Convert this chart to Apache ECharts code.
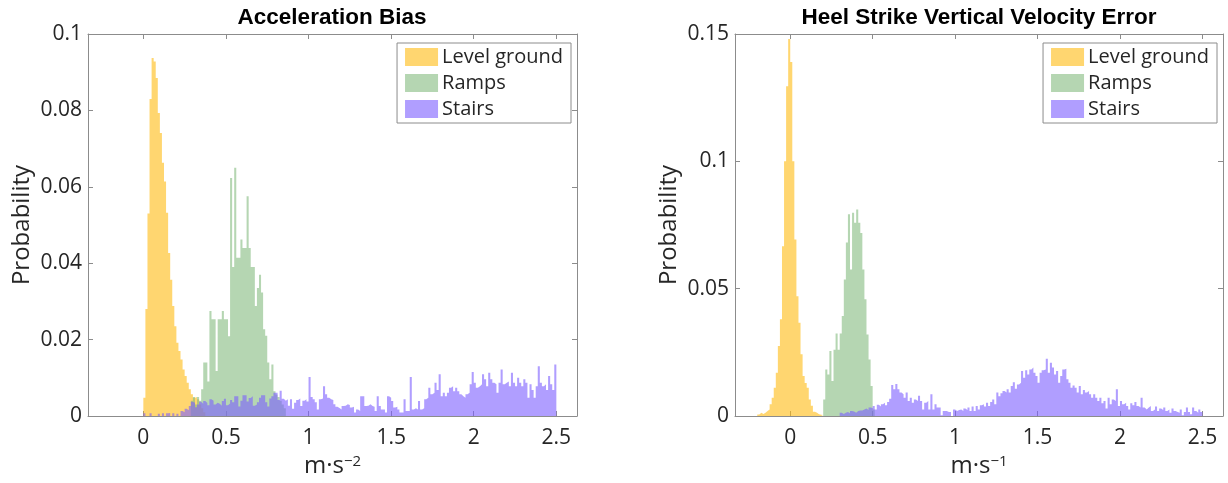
<!DOCTYPE html>
<html>
<head>
<meta charset="utf-8">
<title>Acceleration Bias / Heel Strike Vertical Velocity Error</title>
<script src="https://cdn.jsdelivr.net/npm/echarts@6/dist/echarts.min.js"></script>
<style>
  html, body { margin: 0; padding: 0; background: #ffffff; }
  #chart { width: 1228px; height: 483px; }
</style>
</head>
<body>
<div id="chart"></div>
<script>
// Histogram bin width shared by the series (same units as the x axis)
const BIN = 0.0125;

const seriesNames = ['Level ground', 'Ramps', 'Stairs'];
const xTickValues = [0, 0.5, 1, 1.5, 2, 2.5];

// ---- Acceleration bias (m·s^-2), probability per bin ----
const biasLevelStart = 0;
const biasLevel = [0.0048, 0.028, 0.053, 0.083, 0.0937, 0.0928, 0.0885, 0.0793, 0.0741, 0.0663,
  0.0614, 0.0532, 0.0427, 0.0357, 0.0288, 0.0235, 0.0192, 0.017, 0.0148, 0.0122,
  0.0105, 0.0087, 0.007, 0.0057, 0.0048, 0.005, 0.0044, 0.003, 0.002, 0.001];

const biasRampStart = 0.2875;
const biasRamp = [0.004, 0.005, 0.003, 0.005, 0.004, 0.007, 0.014, 0.014, 0.009, 0.0275,
  0.0253, 0.0253, 0.0118, 0.0253, 0.0253, 0.0275, 0.0253, 0.0253, 0.0209, 0.0623,
  0.039, 0.065, 0.0414, 0.0414, 0.0462, 0.044, 0.044, 0.0575, 0.044, 0.039,
  0.039, 0.0288, 0.0335, 0.037, 0.0323, 0.0227, 0.021, 0.014, 0.0096, 0.0135,
  0.0065, 0.0056, 0.005, 0.004, 0.003, 0.002];

const biasStairsStart = 0;
const biasStairs = [
  0.0007, 0, 0, 0.0007, 0, 0, 0, 0.0006, 0, 0.0007,
  0, 0.0007, 0.0008, 0, 0.0007, 0, 0.0006, 0, 0.0013, 0.001,
  0.0019, 0.0015, 0.0026, 0.0037, 0.0035, 0.0023, 0.003, 0.0037, 0.0032, 0.0039,
  0.0034, 0.0028, 0.0044, 0.004, 0.003, 0.0035, 0.0032, 0.0027, 0.0039, 0.0045,
  0.0028, 0.0033, 0.0042, 0.0036, 0.0052, 0.0052, 0.0025, 0.004, 0.0054, 0.0054,
  0.0038, 0.0047, 0.0052, 0.0027, 0.003, 0.0036, 0.0048, 0.0054, 0.0054, 0.0036,
  0.0025, 0.0046, 0.0052, 0.0061, 0.0061, 0.0042, 0.0066, 0.0045, 0.004, 0.0044,
  0.0027, 0.0044, 0.0019, 0.0035, 0.0042, 0.0046, 0.0026, 0.004, 0.0044, 0.0038,
  0.0102, 0.005, 0.0044, 0.0036, 0.0017, 0.0044, 0.0046, 0.0078, 0.0057, 0.0048,
  0.0044, 0.0042, 0.0031, 0.0024, 0.0021, 0.0017, 0.0026, 0.0027, 0.0031, 0.0029,
  0.0022, 0.0024, 0.0009, 0.0017, 0.0013, 0.0052, 0.0052, 0.0026, 0.0027, 0.0031,
  0.0026, 0.0024, 0.0013, 0.0052, 0.0026, 0.0017, 0.0017, 0.0009, 0.0052, 0.0048,
  0.0039, 0.0022, 0.0024, 0.0017, 0.0009, 0.0009, 0.0044, 0.0013, 0.0013, 0.0102,
  0.0017, 0.002, 0.0017, 0.0039, 0.0017, 0.002, 0.0044, 0.0048, 0.0074, 0.0057,
  0.0061, 0.0087, 0.0068, 0.0109, 0.0052, 0.0061, 0.0052, 0.0061, 0.0074, 0.0078,
  0.0065, 0.0074, 0.0065, 0.0057, 0.0052, 0.0048, 0.0057, 0.0061, 0.0083, 0.0115,
  0.0087, 0.0074, 0.0078, 0.0083, 0.0109, 0.0096, 0.0078, 0.0113, 0.0096, 0.0087,
  0.0083, 0.0061, 0.0087, 0.0122, 0.0083, 0.0087, 0.009, 0.0078, 0.0113, 0.0087,
  0.0078, 0.01, 0.0087, 0.0078, 0.0096, 0.0087, 0.0048, 0.0083, 0.0068, 0.0048,
  0.0078, 0.013, 0.0087, 0.0078, 0.0083, 0.0068, 0.0105, 0.0083, 0.0068, 0.0135];

// ---- Heel strike vertical velocity error (m·s^-1), probability per bin ----
const hsLevelStart = -0.2;
const hsLevel = [0.0006, 0.0013, 0.0008, 0.0013, 0.002, 0.0026, 0.0046, 0.0072, 0.0111, 0.017,
  0.0275, 0.038, 0.0667, 0.1, 0.1295, 0.148, 0.139, 0.1, 0.0693, 0.047,
  0.0366, 0.0242, 0.0157, 0.013, 0.0111, 0.0065, 0.004, 0.0017, 0.0013, 0.0007,
  0.0005, 0.0004];

const hsRampStart = 0.2;
const hsRamp = [0.0065, 0.0183, 0.0163, 0.0255, 0.0137, 0.026, 0.0324, 0.026, 0.0324, 0.0393,
  0.0536, 0.0681, 0.0792, 0.0575, 0.0798, 0.0759, 0.0811, 0.0759, 0.0719, 0.0575,
  0.0458, 0.032, 0.0222, 0.0118, 0.0026];

const hsStairsStart = 0.3;
const hsStairs = [
  0.0013, 0.0008, 0.0013, 0.0016, 0.0011, 0.002, 0.0018, 0.0013, 0.002, 0.0022,
  0.0022, 0.0026, 0.0029, 0.0024, 0.0033, 0.0031, 0.0039, 0.0026, 0.0044, 0.0037,
  0.0046, 0.0052, 0.0042, 0.0055, 0.0068, 0.0122, 0.0105, 0.0126, 0.0105, 0.0092,
  0.0085, 0.0072, 0.0092, 0.0059, 0.0072, 0.0052, 0.0065, 0.0059, 0.008, 0.0059,
  0.0026, 0.0052, 0.0059, 0.0026, 0.0085, 0.0026, 0.0046, 0.0033, 0.0033, 0.0003,
  0.002, 0.002, 0.0016, 0.0016, 0, 0.0026, 0.002, 0.0024, 0.0026, 0.002,
  0.0029, 0.0024, 0.0033, 0.002, 0.0037, 0.002, 0.0039, 0.0026, 0.0042, 0.0046,
  0.0037, 0.0052, 0.0039, 0.0055, 0.0065, 0.0046, 0.0092, 0.0078, 0.0089, 0.0098,
  0.0092, 0.0105, 0.0092, 0.0118, 0.0133, 0.0107, 0.0124, 0.0131, 0.0177, 0.015,
  0.018, 0.0163, 0.0183, 0.019, 0.017, 0.0157, 0.0131, 0.017, 0.018, 0.0183,
  0.0225, 0.017, 0.0209, 0.019, 0.0163, 0.0177, 0.0131, 0.0157, 0.0183, 0.0186,
  0.0144, 0.0131, 0.0111, 0.012, 0.0111, 0.0092, 0.0118, 0.0085, 0.0102, 0.0092,
  0.0098, 0.0085, 0.0072, 0.0085, 0.0072, 0.0059, 0.0072, 0.005, 0.0059, 0.0029,
  0.0072, 0.0046, 0.0065, 0.0059, 0.0105, 0.0039, 0.0059, 0.0046, 0.0052, 0.0039,
  0.0026, 0.005, 0.0042, 0.0055, 0.0039, 0.0033, 0.0072, 0.0033, 0.0026, 0.0033,
  0.0039, 0.002, 0.0026, 0.0037, 0.002, 0.0029, 0.0024, 0.0033, 0.002, 0.0026,
  0.0013, 0.0029, 0.002, 0.0016, 0.0013, 0.0026, 0.0003, 0.0016, 0.0033, 0.0016,
  0.0007, 0.0033, 0.002, 0.0013, 0.0026, 0.0016];

// ---- styling ----
const COLORS = ['rgba(255,187,17,0.6)', 'rgba(132,187,127,0.6)', 'rgba(123,93,255,0.6)'];
const AXIS_GREY = '#8c8c8c';
const TEXT = '#262626';
const FONT = "'Open Sans', 'Noto Sans', sans-serif";
const TITLE_FONT = "'Liberation Sans', Arial, sans-serif";

// Bin edges -> step outline points (left edge of every bin, then closing right edge)
function binSteps(start, width, values) {
  const pts = values.map((v, i) => [start + i * width, v]);
  pts.push([start + values.length * width, 0]);
  return pts;
}

function histSeries(name, color, pts, axisIdx) {
  return {
    name: name,
    type: 'line',
    step: 'end',
    xAxisIndex: axisIdx,
    yAxisIndex: axisIdx,
    data: pts,
    showSymbol: false,
    symbol: 'none',
    color: color,
    itemStyle: { color: color },
    lineStyle: { width: 0, opacity: 0 },
    areaStyle: { color: color, opacity: 1 },
    silent: true
  };
}

const X_MIN = -0.335, X_MAX = 2.625;

function xAxes(gridIndex) {
  return [
    {
      type: 'value', gridIndex: gridIndex, position: 'bottom', min: X_MIN, max: X_MAX,
      axisLine: { onZero: false, lineStyle: { color: AXIS_GREY, width: 1 } },
      axisTick: { inside: true, length: 5, customValues: xTickValues, lineStyle: { color: AXIS_GREY } },
      axisLabel: {
        customValues: xTickValues, fontSize: 21, color: TEXT, fontFamily: FONT, margin: 12,
        formatter: v => String(v)
      },
      splitLine: { show: false },
      name: gridIndex === 0 ? 'm·s{sup|−2}' : 'm·s{sup|−1}',
      nameLocation: 'middle', nameGap: 38,
      nameTextStyle: {
        fontSize: 24, color: TEXT, fontFamily: FONT,
        rich: { sup: { fontSize: 15, color: TEXT, fontFamily: FONT, verticalAlign: 'top', padding: [0, 0, 8, 0] } }
      }
    },
    {
      type: 'value', gridIndex: gridIndex, position: 'top', min: X_MIN, max: X_MAX,
      axisLine: { onZero: false, lineStyle: { color: AXIS_GREY, width: 1 } },
      axisTick: { inside: true, length: 5, customValues: xTickValues, lineStyle: { color: AXIS_GREY } },
      axisLabel: { show: false },
      splitLine: { show: false }
    }
  ];
}

function yAxes(gridIndex, max, interval) {
  return [
    {
      type: 'value', gridIndex: gridIndex, position: 'left', min: 0, max: max, interval: interval,
      axisLine: { show: true, onZero: false, lineStyle: { color: AXIS_GREY, width: 1 } },
      axisTick: { show: true, inside: true, length: 5, lineStyle: { color: AXIS_GREY } },
      axisLabel: { fontSize: 21, color: TEXT, fontFamily: FONT, margin: 6 },
      splitLine: { show: false },
      name: 'Probability', nameLocation: 'middle', nameGap: 54,
      nameTextStyle: { fontSize: 24, color: TEXT, fontFamily: FONT }
    },
    {
      type: 'value', gridIndex: gridIndex, position: 'right', min: 0, max: max, interval: interval,
      axisLine: { show: true, onZero: false, lineStyle: { color: AXIS_GREY, width: 1 } },
      axisTick: { show: true, inside: true, length: 5, lineStyle: { color: AXIS_GREY } },
      axisLabel: { show: false },
      splitLine: { show: false }
    }
  ];
}

function legendBox(rightPx) {
  return {
    data: seriesNames,
    orient: 'vertical',
    right: rightPx, top: 43,
    icon: 'rect',
    itemWidth: 33, itemHeight: 18, itemGap: 6,
    padding: [4, 8, 4, 8],
    backgroundColor: '#ffffff',
    borderColor: AXIS_GREY, borderWidth: 1, borderRadius: 0,
    selectedMode: false,
    textStyle: { fontSize: 20, lineHeight: 18, color: TEXT, fontFamily: FONT, padding: [0, 0, 0, -1] }
  };
}

function titleText(x, text) {
  return {
    type: 'text', x: x, y: 18,
    style: {
      text: text, fontSize: 22.5, fontWeight: 'bold', fontFamily: TITLE_FONT,
      fill: '#000000', textAlign: 'center', textVerticalAlign: 'middle'
    }
  };
}

const chart = echarts.init(document.getElementById('chart'), null, { renderer: 'canvas' });

chart.setOption({
  animation: false,
  backgroundColor: '#ffffff',
  grid: [
    { left: 88, top: 34, width: 489, height: 383 },
    { left: 735, top: 34, width: 488, height: 383 }
  ],
  xAxis: [...xAxes(0), ...xAxes(1)],
  yAxis: [...yAxes(0, 0.1, 0.02), ...yAxes(1, 0.15, 0.05)],
  legend: [legendBox(657), legendBox(11)],
  graphic: [
    titleText(332, 'Acceleration Bias'),
    titleText(979, 'Heel Strike Vertical Velocity Error')
  ],
  series: [
    histSeries(seriesNames[0], COLORS[0], binSteps(biasLevelStart, BIN, biasLevel), 0),
    histSeries(seriesNames[1], COLORS[1], binSteps(biasRampStart, BIN, biasRamp), 0),
    histSeries(seriesNames[2], COLORS[2], binSteps(biasStairsStart, BIN, biasStairs), 0),
    histSeries(seriesNames[0], COLORS[0], binSteps(hsLevelStart, BIN, hsLevel), 2),
    histSeries(seriesNames[1], COLORS[1], binSteps(hsRampStart, BIN, hsRamp), 2),
    histSeries(seriesNames[2], COLORS[2], binSteps(hsStairsStart, BIN, hsStairs), 2)
  ]
});
</script>
</body>
</html>
